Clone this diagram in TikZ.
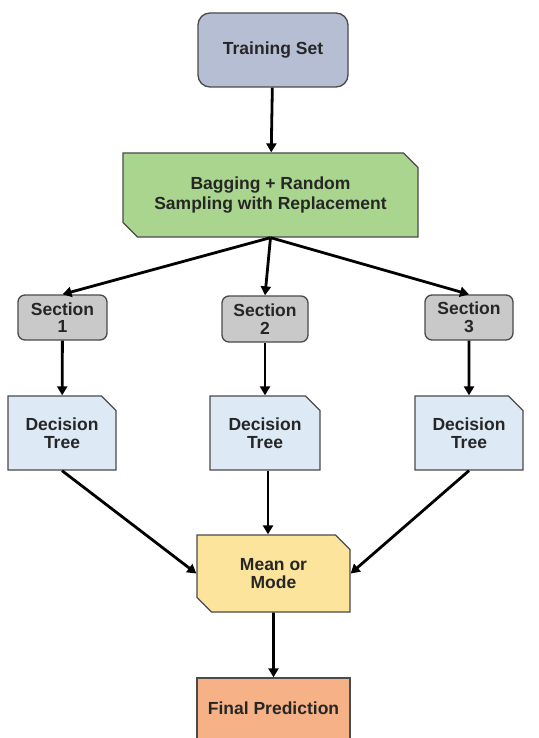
\documentclass[tikz,border=0pt]{standalone}
\usepackage{fontspec}
\setmainfont{Liberation Sans}
\usetikzlibrary{arrows.meta,shapes.misc}
\definecolor{tsfill}{HTML}{B5BED3}
\definecolor{bagfill}{HTML}{A9D58E}
\definecolor{secfill}{HTML}{C9C9C9}
\definecolor{dtfill}{HTML}{DDE9F4}
\definecolor{mmfill}{HTML}{FCE49C}
\definecolor{fpfill}{HTML}{F6B286}
\definecolor{fpdark}{HTML}{D9936A}
\definecolor{edge}{HTML}{4A4A4A}
\tikzset{
  box/.style={draw=edge, line width=1.3pt, align=center, inner sep=0pt,
    font=\fontsize{17.5}{17.5}\selectfont\bfseries, text=black!85},
  roundbox/.style={box, rectangle, rounded corners=#1},
  cutbox/.style={box, chamfered rectangle, chamfered rectangle xsep=11pt,
    chamfered rectangle corners={#1}},
  conn/.style={line width=2.8pt, -{Triangle[length=9pt,width=10pt]}},
}
\begin{document}
\begin{tikzpicture}[x=1pt,y=-1pt]
\useasboundingbox (0,0) rectangle (538,738);
\node[roundbox=12pt, fill=tsfill, minimum width=150pt, minimum height=74pt] (ts) at (273,50) {Training Set};
\node[cutbox={north east,south west}, fill=bagfill, minimum width=295pt, minimum height=84pt,
  font=\fontsize{17.5}{20}\selectfont\bfseries] (bag) at (270.5,195) {Bagging + Random\\Sampling with Replacement};
\node[roundbox=7pt, fill=secfill, minimum width=89pt, minimum height=45pt] (s1) at (62.5,317.5) {Section\\1};
\node[roundbox=7pt, fill=secfill, minimum width=86pt, minimum height=46pt] (s2) at (265,319) {Section\\2};
\node[roundbox=7pt, fill=secfill, minimum width=88pt, minimum height=45pt] (s3) at (469,317.5) {Section\\3};
\node[cutbox={north east}, fill=dtfill, minimum width=108pt, minimum height=74pt] (d1) at (62,433) {Decision\\Tree};
\node[cutbox={north east}, fill=dtfill, minimum width=110pt, minimum height=74pt] (d2) at (265,433) {Decision\\Tree};
\node[cutbox={north east}, fill=dtfill, minimum width=108pt, minimum height=74pt] (d3) at (469,433) {Decision\\Tree};
\node[cutbox={north east,south west}, fill=mmfill, minimum width=153pt, minimum height=77pt] (mm) at (273.5,573.5) {Mean or\\Mode};
\node[box, rectangle, fill=fpfill, minimum width=153pt, minimum height=61pt] (fp) at (273.5,708.5) {Final Prediction};
% page curl on the last box
\fill[white] ([xshift=-10pt]fp.south east) -- (fp.south east) -- ([yshift=-10pt]fp.south east) -- cycle;
\draw[draw=edge, line width=1pt, fill=fpdark] ([yshift=-10pt]fp.south east) .. controls ([xshift=-6pt,yshift=-6pt]fp.south east) .. ([xshift=-10pt]fp.south east) .. controls ([xshift=-4pt,yshift=-2pt]fp.south east) .. ([yshift=-10pt]fp.south east);
\draw[conn] (ts) -- (bag);
\draw[conn] (bag.south) -- (s1.north);
\draw[conn] (bag.south) -- (s2.north);
\draw[conn] (bag.south) -- (s3.north);
\draw[conn] (s1) -- (d1);
\draw[conn] (s2) -- (d2);
\draw[conn] (s3) -- (d3);
\draw[conn] (d1.south) -- (mm.west);
\draw[conn] ([xshift=3pt]d2.south) -- ([xshift=3pt]d2.south |- mm.north);
\draw[conn] (d3.south) -- (mm.east);
\draw[conn] (mm) -- (fp);
\end{tikzpicture}
\end{document}
